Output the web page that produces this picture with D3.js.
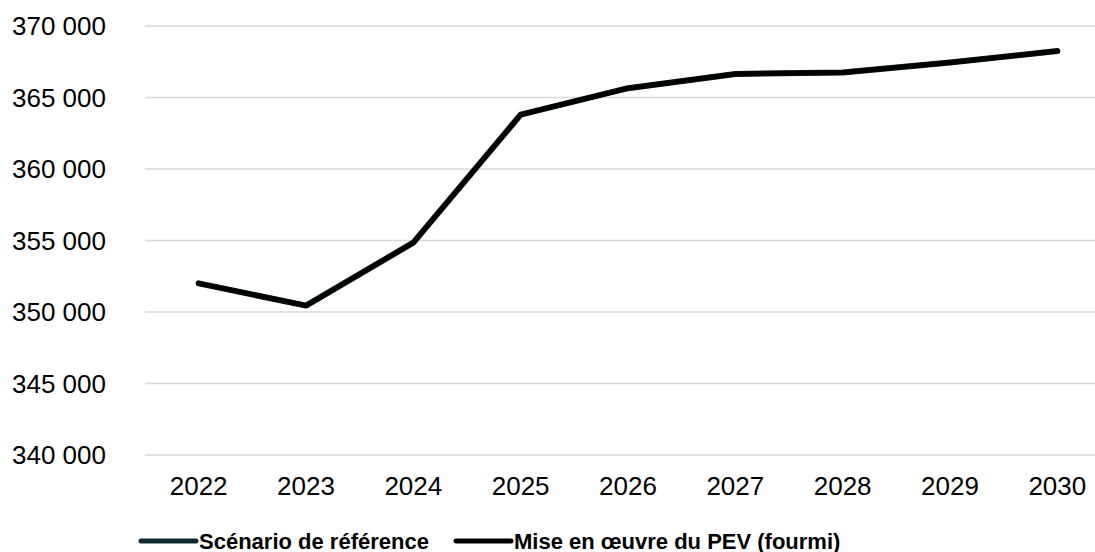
<!DOCTYPE html>
<html lang="fr">
<head>
    <meta charset="UTF-8">
    <title>PEV</title>
    <script src="https://d3js.org/d3.v7.min.js"></script>
    <style>
        body { margin: 0; background: #fff; }
        svg { display: block; }
        .tick_text { font-family: "Liberation Sans", Arial, sans-serif; font-size: 26px; fill: #000; }
        .legend_text { font-family: "Liberation Sans", Arial, sans-serif; font-size: 22px; font-weight: bold; fill: #000; }
    </style>
</head>
<body>
    <svg width="1095" height="552"></svg>
    <script>
        const years = ["2022", "2023", "2024", "2025", "2026", "2027", "2028", "2029", "2030"];
        const refScenario = [352000, 350450, 354850, 363800, 365650, 366650, 366750, 367450, 368250];
        const pevScenario = [352000, 350450, 354850, 363800, 365650, 366650, 366750, 367450, 368250];
        const seriesNames = ["Scénario de référence", "Mise en œuvre du PEV (fourmi)"];
        const yTicks = [340000, 345000, 350000, 355000, 360000, 365000, 370000];

        const svg = d3.select("svg");

        const x = d3.scalePoint().domain(years).range([145, 1111]).padding(0.5);
        const y = d3.scaleLinear().domain([340000, 370000]).range([455, 26]);

        const fr = d3.formatLocale({ decimal: ",", thousands: " ", grouping: [3], currency: ["", ""] });
        const fmt = fr.format(",d");

        // grid
        svg.append("g")
            .selectAll("line")
            .data(yTicks)
            .enter()
            .append("line")
            .attr("x1", 145).attr("x2", 1111)
            .attr("y1", d => y(d)).attr("y2", d => y(d))
            .attr("stroke", "#d9d9d9")
            .attr("stroke-width", 1.5);

        // y labels
        svg.append("g")
            .selectAll("text")
            .data(yTicks)
            .enter()
            .append("text")
            .attr("class", "tick_text")
            .attr("x", 106)
            .attr("y", d => y(d))
            .attr("dy", "0.36em")
            .attr("text-anchor", "end")
            .text(d => fmt(d));

        // x labels
        svg.append("g")
            .selectAll("text")
            .data(years)
            .enter()
            .append("text")
            .attr("class", "tick_text")
            .attr("x", d => x(d))
            .attr("y", 495)
            .attr("text-anchor", "middle")
            .text(d => d);

        const line = d3.line()
            .x((d, i) => x(years[i]))
            .y(d => y(d));

        const series = [
            { name: seriesNames[0], values: refScenario, color: "#0e2a31" },
            { name: seriesNames[1], values: pevScenario, color: "#000000" }
        ];

        svg.append("g")
            .selectAll("path")
            .data(series)
            .enter()
            .append("path")
            .attr("d", d => line(d.values))
            .attr("fill", "none")
            .attr("stroke", d => d.color)
            .attr("stroke-width", d => d.color === "#000000" ? 5 : 6)
            .attr("stroke-linejoin", "round")
            .attr("stroke-linecap", "round");

        // legend
        const legendX = [141, 456];
        const lg = svg.append("g")
            .selectAll("g")
            .data(series)
            .enter()
            .append("g")
            .attr("transform", (d, i) => `translate(${legendX[i]},541)`);

        lg.append("line")
            .attr("x1", 0).attr("x2", 55)
            .attr("y1", 0).attr("y2", 0)
            .attr("stroke", d => d.color)
            .attr("stroke-width", 5)
            .attr("stroke-linecap", "round");

        lg.append("text")
            .attr("class", "legend_text")
            .attr("x", 58)
            .attr("y", 7.5)
            .text(d => d.name);
    </script>
</body>
</html>
